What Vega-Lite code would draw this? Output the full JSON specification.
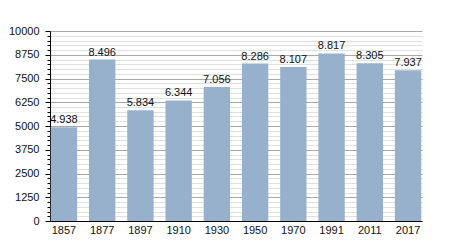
{
  "$schema": "https://vega.github.io/schema/vega-lite/v6.json",
  "width": 372,
  "height": 190,
  "autosize": "none",
  "padding": {"left": 50, "top": 31, "right": 28, "bottom": 29},
  "background": "white",
  "config": {
    "view": {"stroke": null},
    "font": "Liberation Sans",
    "locale": {"number": {"decimal": ",", "thousands": ".", "grouping": [3], "currency": ["", ""]}}
  },
  "data": {
    "values": [
      {"year": "1857", "pop": 4938},
      {"year": "1877", "pop": 8496},
      {"year": "1897", "pop": 5834},
      {"year": "1910", "pop": 6344},
      {"year": "1930", "pop": 7056},
      {"year": "1950", "pop": 8286},
      {"year": "1970", "pop": 8107},
      {"year": "1991", "pop": 8817},
      {"year": "2011", "pop": 8305},
      {"year": "2017", "pop": 7937}
    ]
  },
  "encoding": {
    "x": {
      "field": "year", "type": "nominal", "sort": null,
      "scale": {"paddingInner": 0.31, "paddingOuter": 0.02},
      "axis": {
        "title": null, "labelAngle": 0, "ticks": false, "domainColor": "#000",
        "labelFontSize": 11, "labelColor": "#111", "labelPadding": 3
      }
    },
    "y": {
      "field": "pop", "type": "quantitative",
      "scale": {"domain": [0, 10000], "nice": false},
      "axis": {
        "title": null,
        "values": [0,250,500,750,1000,1250,1500,1750,2000,2250,2500,2750,3000,3250,3500,3750,4000,4250,4500,4750,5000,5250,5500,5750,6000,6250,6500,6750,7000,7250,7500,7750,8000,8250,8500,8750,9000,9250,9500,9750,10000],
        "format": "d",
        "labelExpr": "datum.value % 1250 === 0 ? datum.label : ''",
        "labelOverlap": false,
        "labelFontSize": 11,
        "labelColor": "#111",
        "labelPadding": 6,
        "domainColor": "#000",
        "tickColor": "#000",
        "tickSize": {"condition": {"test": "datum.value % 1250 === 0", "value": 5}, "value": 3},
        "grid": true,
        "gridColor": {"condition": {"test": "datum.value % 1250 === 0", "value": "#a8a8a8"}, "value": "#e0e0e0"},
        "gridOpacity": 1
      }
    }
  },
  "layer": [
    {"mark": {"type": "bar", "color": "#97b1cd"}},
    {
      "mark": {"type": "text", "baseline": "bottom", "dy": -2, "fontSize": 11, "color": "#111"},
      "encoding": {"text": {"field": "pop", "type": "quantitative", "format": ","}}
    }
  ]
}
